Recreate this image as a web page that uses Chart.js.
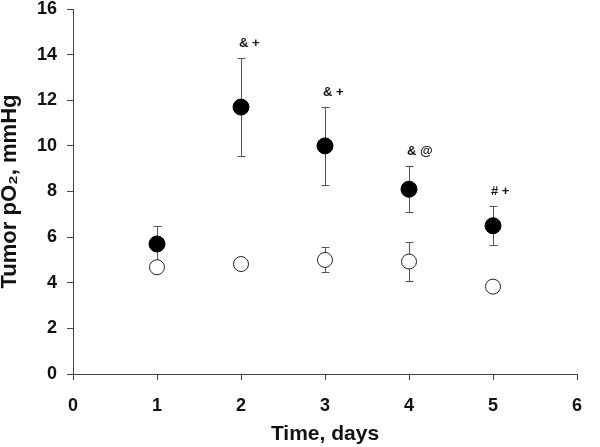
<!DOCTYPE html>
<html>
<head>
<meta charset="utf-8">
<script src="https://cdn.jsdelivr.net/npm/chart.js@4.4.0/dist/chart.umd.min.js"></script>
<style>
  html, body { margin: 0; padding: 0; background: #fff; }
</style>
</head>
<body>
<canvas id="chart" width="600" height="447"></canvas>
<script>
// values
const days = [1, 2, 3, 4, 5];
const treated = [5.7, 11.7, 10.0, 8.1, 6.5];
const treatedErr = [0.8, 2.15, 1.7, 1.0, 0.85];
const control = [4.68, 4.82, 5.0, 4.93, 3.83];
const controlErr = [0.2, 0.2, 0.55, 0.85, 0.2];
const marks = ['', '& +', '& +', '& @', '# +'];

const FONT = "'Liberation Sans', Arial, sans-serif";

const toPoints = (xs, ys) => xs.map((x, i) => ({ x: x, y: ys[i] }));

// error bars go under the markers
const errorBars = {
  id: 'errorBars',
  beforeDatasetsDraw(chart) {
    const ctx = chart.ctx;
    const xs = chart.scales.x, ys = chart.scales.y;
    ctx.save();
    ctx.strokeStyle = '#555';
    ctx.lineWidth = 1;
    chart.data.datasets.forEach(ds => {
      ds.data.forEach((p, i) => {
        const e = ds.err[i];
        const px = Math.round(xs.getPixelForValue(p.x)) + 0.5;
        const top = Math.round(ys.getPixelForValue(p.y + e)) + 0.5;
        const bot = Math.round(ys.getPixelForValue(p.y - e)) + 0.5;
        ctx.beginPath();
        ctx.moveTo(px, top); ctx.lineTo(px, bot);
        ctx.moveTo(px - 4, top); ctx.lineTo(px + 4, top);
        ctx.moveTo(px - 4, bot); ctx.lineTo(px + 4, bot);
        ctx.stroke();
      });
    });
    ctx.restore();
  }
};

// significance marks above the treated error bars
const sigMarks = {
  id: 'sigMarks',
  afterDatasetsDraw(chart) {
    const ctx = chart.ctx;
    const xs = chart.scales.x, ys = chart.scales.y;
    ctx.save();
    ctx.fillStyle = '#111';
    ctx.font = 'bold 13px ' + FONT;
    ctx.textAlign = 'left';
    ctx.textBaseline = 'middle';
    days.forEach((d, i) => {
      if (!marks[i]) return;
      const px = xs.getPixelForValue(d);
      const top = ys.getPixelForValue(treated[i] + treatedErr[i]);
      ctx.fillText(marks[i], px - 2, top - 15);
    });
    ctx.restore();
  }
};

new Chart(document.getElementById('chart'), {
  type: 'scatter',
  data: {
    datasets: [{
      label: 'Treated',
      data: toPoints(days, treated),
      err: treatedErr,
      backgroundColor: '#000',
      borderColor: '#000',
      borderWidth: 1,
      pointRadius: 8
    }, {
      label: 'Control',
      data: toPoints(days, control),
      err: controlErr,
      backgroundColor: '#fff',
      borderColor: '#222',
      borderWidth: 1,
      pointRadius: 7.5
    }]
  },
  options: {
    responsive: false,
    animation: false,
    layout: { padding: { top: 9, right: 23, left: 0, bottom: 0 } },
    plugins: { legend: { display: false }, tooltip: { enabled: false } },
    scales: {
      x: {
        type: 'linear',
        min: 0, max: 6,
        afterFit: s => { s.height = 73; },
        ticks: { stepSize: 1, color: '#111', padding: 17, font: { family: FONT, size: 18, weight: 'bold', lineHeight: 1 } },
        grid: { drawOnChartArea: false, tickLength: 6, color: '#444' },
        border: { color: '#444' },
        title: { display: true, text: 'Time, days', color: '#111', padding: 0, font: { family: FONT, size: 21, weight: 'bold', lineHeight: 1.2 } }
      },
      y: {
        min: 0, max: 16,
        afterFit: s => { s.width = 73; s.paddingTop = 0; s.paddingBottom = 0; },
        ticks: { stepSize: 2, color: '#111', padding: 10, font: { family: FONT, size: 18, weight: 'bold', lineHeight: 1 } },
        grid: { drawOnChartArea: false, tickLength: 6, color: '#444' },
        border: { color: '#444' },
        title: { display: true, text: 'Tumor pO₂, mmHg', color: '#111', padding: 0, font: { family: FONT, size: 22, weight: 'bold', lineHeight: 0.9 } }
      }
    }
  },
  plugins: [errorBars, sigMarks]
});
</script>
</body>
</html>
